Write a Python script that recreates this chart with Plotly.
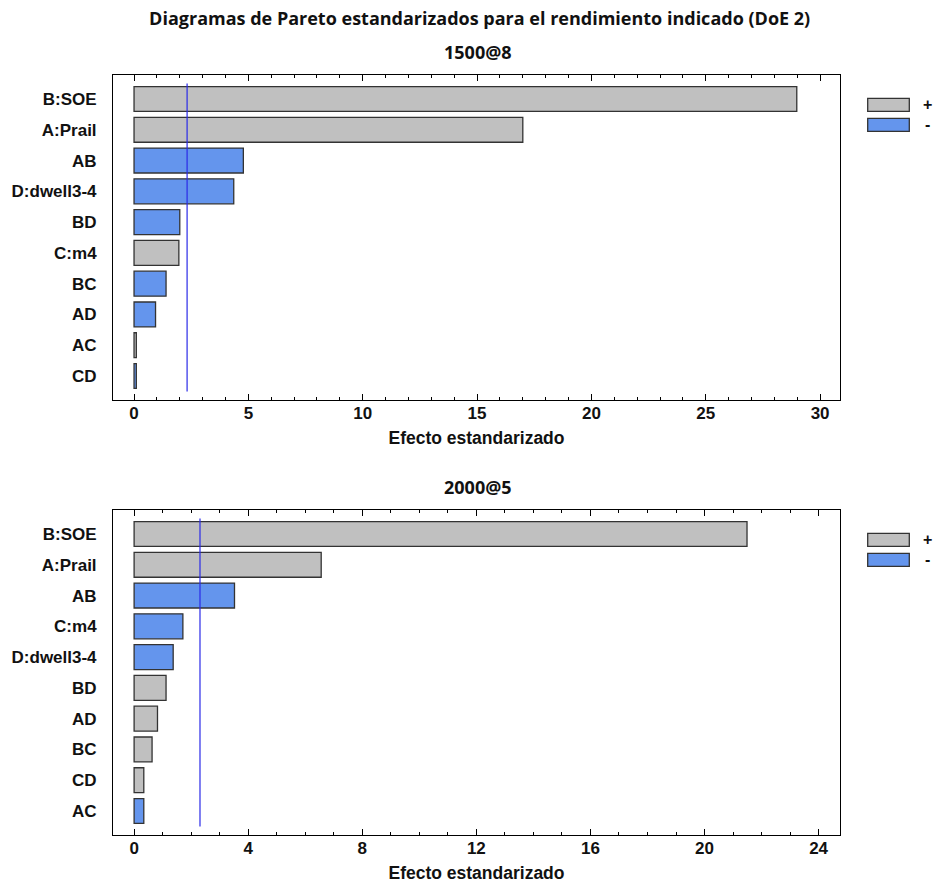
import plotly.graph_objects as go

# ---------------- data ----------------
title_main = "Diagramas de Pareto estandarizados para el rendimiento indicado (DoE 2)"
panel_titles = ["1500@8", "2000@5"]
x_title = "Efecto estandarizado"

labels_1 = ["B:SOE", "A:Prail", "AB", "D:dwell3-4", "BD", "C:m4", "BC", "AD", "AC", "CD"]
effects_1 = [28.98, 17.0, 4.78, 4.36, 2.0, 1.96, 1.40, 0.94, 0.10, 0.10]
signs_1 = ["+", "+", "-", "-", "-", "+", "-", "-", "+", "-"]
crit_1 = 2.32

labels_2 = ["B:SOE", "A:Prail", "AB", "C:m4", "D:dwell3-4", "BD", "AD", "BC", "CD", "AC"]
effects_2 = [21.49, 6.56, 3.52, 1.71, 1.37, 1.12, 0.82, 0.63, 0.34, 0.34]
signs_2 = ["+", "+", "-", "-", "-", "+", "+", "+", "+", "-"]
crit_2 = 2.31

x_ranges = [[-0.92, 30.87], [-0.74, 24.75]]
x_dticks = [5, 4]
legend_labels = ["+", "-"]

# ---------------- style ----------------
W, H = 935, 883
ML, MR, MT, MB = 113, 95, 75, 48
COL = {"+": "#C0C0C0", "-": "#6495ED"}
EDGE = "#333333"
LINE_BLUE = "#2A2AE8"
FAM = "Liberation Sans, Arial, sans-serif"
AX_FONT = dict(family=FAM, size=17, color="#111111", weight="bold")
AXT_FONT = dict(family=FAM, size=17.5, color="#111111", weight="bold")
TITLE_FONT = dict(family="Open Sans, sans-serif", size=18, color="#111111", weight="bold")

plot_h = H - MT - MB
top_dom = [(835 - 400) / plot_h, 1.0]
bot_dom = [0.0, (835 - 510) / plot_h]

fig = go.Figure()

panels = [
    (labels_1, effects_1, signs_1, crit_1, "x", "y"),
    (labels_2, effects_2, signs_2, crit_2, "x2", "y2"),
]

for labels, effects, signs, crit, xa, ya in panels:
    idx = list(range(len(labels)))
    fig.add_trace(go.Bar(
        x=effects, y=idx, orientation="h",
        marker=dict(color=[COL[s] for s in signs], line=dict(color=EDGE, width=1.3)),
        width=0.81, xaxis=xa, yaxis=ya, showlegend=False, hoverinfo="x+y",
    ))
    fig.add_trace(go.Scatter(
        x=[crit, crit], y=[-0.5, len(labels) - 0.5], mode="lines",
        line=dict(color=LINE_BLUE, width=1.2), xaxis=xa, yaxis=ya, showlegend=False,
    ))

def xaxis_cfg(rng, dtick, anchor):
    return dict(
        range=rng, dtick=dtick, tick0=0, anchor=anchor, automargin=False,
        showgrid=False, zeroline=False,
        showline=True, linecolor="#000000", linewidth=1, mirror="allticks",
        ticks="inside", ticklen=6, tickwidth=1, tickcolor="#000000",
        minor=dict(dtick=1, tick0=0, ticks="inside", ticklen=3, tickcolor="#000000", showgrid=False),
        tickfont=AX_FONT, ticklabelstandoff=-2,
        title=dict(text=x_title, font=AXT_FONT, standoff=9),
    )

def yaxis_cfg(labels, dom, anchor):
    return dict(
        domain=dom, anchor=anchor, automargin=False,
        range=[len(labels) - 1 + 0.78, -0.78],
        tickvals=list(range(len(labels))), ticktext=labels,
        showgrid=False, zeroline=False,
        showline=True, linecolor="#000000", linewidth=1, mirror=True,
        ticks="", tickfont=AX_FONT, ticklabelstandoff=12,
    )

fig.update_layout(
    width=W, height=H,
    margin=dict(l=ML, r=MR, t=MT, b=MB, autoexpand=False),
    paper_bgcolor="white", plot_bgcolor="white",
    title=dict(text=title_main, x=0.513, xanchor="center", y=1 - 19 / H, yanchor="middle", font=TITLE_FONT),
    xaxis=xaxis_cfg(x_ranges[0], x_dticks[0], "y"),
    yaxis=yaxis_cfg(labels_1, top_dom, "x"),
    xaxis2=xaxis_cfg(x_ranges[1], x_dticks[1], "y2"),
    yaxis2=yaxis_cfg(labels_2, bot_dom, "x2"),
)

# panel titles and custom legends
shapes = []
annotations = []
for k, (xa, ya) in enumerate([("x", "y"), ("x2", "y2")]):
    annotations.append(dict(
        text=panel_titles[k], xref=f"{xa} domain", yref=f"{ya} domain",
        x=(478 - ML) / 727, y=1 + 23 / 325, xanchor="center", yanchor="middle",
        showarrow=False, font=TITLE_FONT,
    ))
    for j, lab in enumerate(legend_labels):
        y_top = 1 - (23.4 + 20 * j) / 325
        y_bot = 1 - (36.4 + 20 * j) / 325
        shapes.append(dict(
            type="rect", xref=f"{xa} domain", yref=f"{ya} domain",
            x0=(867.7 - ML) / 727, x1=(909.3 - ML) / 727, y0=y_bot, y1=y_top,
            fillcolor=COL[lab], line=dict(color=EDGE, width=1.3),
        ))
        annotations.append(dict(
            text=lab, xref=f"{xa} domain", yref=f"{ya} domain",
            x=(927 - ML) / 727, y=(y_top + y_bot) / 2, xanchor="center", yanchor="middle",
            showarrow=False, font=dict(family=FAM, size=16, color="#111111", weight="bold"),
        ))

fig.update_layout(shapes=shapes, annotations=annotations)

fig.write_html(
    "out.html",
    config={"displayModeBar": False},
    post_script="document.body.style.margin='0';document.body.style.overflow='hidden';",
)
